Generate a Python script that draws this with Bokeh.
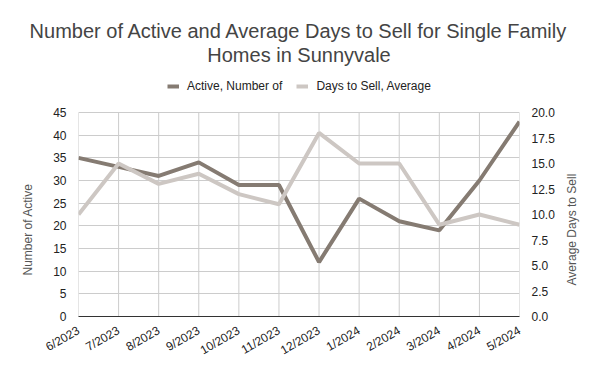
import math
from bokeh.plotting import figure
from bokeh.models import (Range1d, LinearAxis, FixedTicker, PrintfTickFormatter,
                          Title, Legend, LegendItem, ColumnDataSource)
from bokeh.embed import file_html
from bokeh.resources import INLINE

months = ["6/2023", "7/2023", "8/2023", "9/2023", "10/2023", "11/2023",
          "12/2023", "1/2024", "2/2024", "3/2024", "4/2024", "5/2024"]
active = [35, 33, 31, 34, 29, 29, 12, 26, 21, 19, 30, 43]
days = [10, 15, 13, 14, 12, 11, 18, 15, 15, 9, 10, 9]
left_ticks = [0, 5, 10, 15, 20, 25, 30, 35, 40, 45]
right_ticks = [0, 2.5, 5, 7.5, 10, 12.5, 15, 17.5, 20]
left_max, right_max = 45, 20
left_title = "Number of Active"
right_title = "Average Days to Sell"

FONT = "Liberation Sans"
x = list(range(len(months)))
src = ColumnDataSource(dict(x=x, active=active, days=days))

# layout (pixels): frame extends above the 45 line to hold the legend
FRAME_TOP, GRID_TOP, FRAME_BOTTOM = 65, 112, 316
FRAME_H = FRAME_BOTTOM - FRAME_TOP
ext = FRAME_H / (FRAME_BOTTOM - GRID_TOP)

p = figure(width=600, height=371, output_backend="svg", toolbar_location=None,
           x_range=Range1d(0, len(months) - 1), y_range=Range1d(0, left_max * ext),
           min_border_left=78, min_border_right=81, min_border_bottom=371 - FRAME_BOTTOM,
           min_border_top=FRAME_TOP)
p.extra_y_ranges = {"days": Range1d(0, right_max * ext),
                    "px": Range1d(0, FRAME_H)}   # pixel scale for axis titles
p.outline_line_color = None
p.background_fill_color = "white"
p.border_fill_color = "white"

# vertical grid lines only up to the top tick
p.segment(x0=x, y0=[0] * len(x), x1=x, y1=[left_max] * len(x),
          line_color="#cccccc", line_width=1)
p.xgrid.visible = False
p.ygrid.ticker = FixedTicker(ticks=left_ticks)
p.ygrid.grid_line_color = "#cccccc"
p.ygrid.grid_line_width = 1

c_active = "#857b72"
c_days = "#cdc7c3"
r1 = p.line("x", "active", source=src, line_color=c_active, line_width=4)
r2 = p.line("x", "days", source=src, y_range_name="days", line_color=c_days, line_width=4)

xa = p.xaxis[0]
xa.ticker = FixedTicker(ticks=x)
xa.major_label_overrides = {i: m for i, m in enumerate(months)}
xa.major_label_orientation = math.pi / 6
xa.axis_line_color = "#333333"
xa.axis_line_width = 1
xa.major_tick_line_color = None
xa.minor_tick_line_color = None
xa.major_label_text_font = FONT
xa.major_label_text_font_size = "12px"
xa.major_label_text_color = "#222222"
xa.major_label_standoff = 7


def style_axis(ax, standoff, color="#222222"):
    ax.axis_line_color = None
    ax.major_tick_line_color = None
    ax.minor_tick_line_color = None
    ax.major_label_text_font = FONT
    ax.major_label_text_font_size = "12px"
    ax.major_label_text_color = color
    ax.major_label_standoff = standoff


ya = p.yaxis[0]
ya.ticker = FixedTicker(ticks=left_ticks)
style_axis(ya, 6)

ra = LinearAxis(y_range_name="days", ticker=FixedTicker(ticks=right_ticks),
                formatter=PrintfTickFormatter(format="%.1f"))
style_axis(ra, 6)
p.add_layout(ra, "right")

# axis titles, placed as off-centre labels on label-only axes
LEFT_TITLE_TOP, RIGHT_TITLE_BOTTOM = 183, 285
lt = FRAME_BOTTOM - LEFT_TITLE_TOP
rt = FRAME_BOTTOM - RIGHT_TITLE_BOTTOM
la = LinearAxis(y_range_name="px", ticker=FixedTicker(ticks=[lt]),
                major_label_overrides={lt: left_title},
                major_label_orientation=math.pi / 2)
style_axis(la, 17, "#555555")
p.add_layout(la, "left")
rta = LinearAxis(y_range_name="px", ticker=FixedTicker(ticks=[rt]),
                 major_label_overrides={rt: right_title},
                 major_label_orientation=math.pi / 2)
style_axis(rta, 8, "#555555")
p.add_layout(rta, "right")

legend = Legend(items=[LegendItem(label="Active, Number of", renderers=[r1]),
                       LegendItem(label="Days to Sell, Average", renderers=[r2])],
                orientation="horizontal", location=(89, 223),
                label_text_font=FONT, label_text_font_size="12px",
                label_text_color="#222222", glyph_width=12, glyph_height=14,
                label_height=14, label_standoff=8, spacing=14,
                border_line_color=None, background_fill_alpha=0,
                padding=0, margin=0)
p.add_layout(legend, "center")

t2 = Title(text="Homes in Sunnyvale", align="center", text_font=FONT,
           text_font_size="20px", text_font_style="normal", text_color="#444444",
           standoff=0)
t1 = Title(text="Number of Active and Average Days to Sell for Single Family",
           align="center", text_font=FONT, text_font_size="20px",
           text_font_style="normal", text_color="#444444", standoff=0)
p.add_layout(t2, "above")
p.add_layout(t1, "above")

open("out.html", "w").write(file_html(p, INLINE))
